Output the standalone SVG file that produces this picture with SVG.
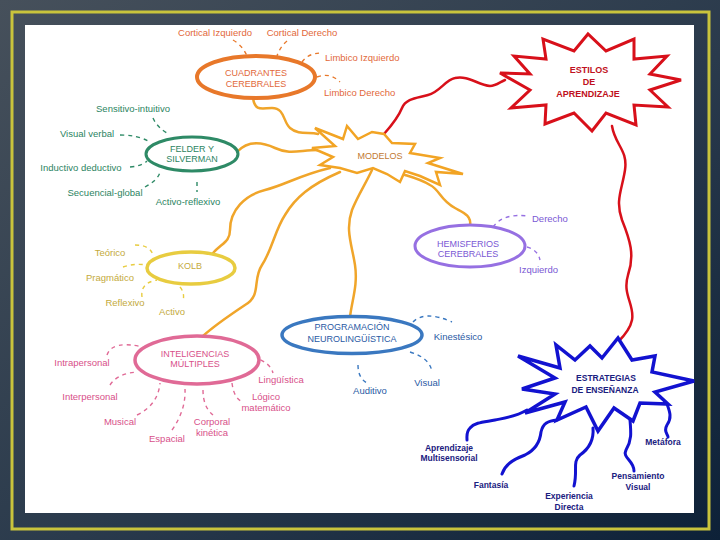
<svg xmlns="http://www.w3.org/2000/svg" width="720" height="540" viewBox="0 0 720 540">
<defs>
<linearGradient id="bg" x1="0" y1="0" x2="1" y2="1">
<stop offset="0" stop-color="#46505b"/>
<stop offset="0.55" stop-color="#2a3a4c"/>
<stop offset="1" stop-color="#0d2138"/>
</linearGradient>
<style>
text{font-family:"Liberation Sans",Arial,sans-serif;font-size:9.5px;text-anchor:middle}
.st{text-anchor:start}
.t{font-size:9px}
.b{font-weight:bold;font-size:8.5px}
.w{fill:none;stroke-width:2.5;stroke-linecap:round;stroke-linejoin:round}
.d{fill:none;stroke-width:1.4;stroke-dasharray:4 4}
.or{stroke:#f0a52a}.rd{stroke:#d8101a}.bl{stroke:#1212d0;stroke-width:3}
.c1{fill:#e2683a}.s1{stroke:#e8782a}
.c2{fill:#2c8462}.s2{stroke:#2e8a66}
.c3{fill:#c4aa3c}.s3{stroke:#e8cc40}
.c4{fill:#7a58d4}.s4{stroke:#9670e2}
.c5{fill:#d8508a}.s5{stroke:#e06a96}
.c6{fill:#2a5aa4}.s6{stroke:#3a78c0}
.c7{fill:#1a2080}
</style>
</defs>
<rect width="720" height="540" fill="url(#bg)"/>
<rect x="12" y="12" width="697" height="517" fill="none" stroke="#c9c43c" stroke-width="3"/>
<rect x="25" y="25" width="669" height="488" fill="#ffffff"/>

<g id="connectors">
<path class="w or" d="M253,98 C255,112 262,108 272,108 C285,108 283,122 290,128 C298,135 308,132 318,134"/>
<path class="w or" d="M237,152 C248,140 262,142 275,148 C290,155 300,150 318,150"/>
<path class="w or" d="M213,253 C222,243 230,242 230,230 C230,210 245,195 265,190 C285,185 300,175 330,168"/>
<path class="w or" d="M203,336 C215,325 230,315 245,305 C262,295 252,280 262,265 C272,250 275,230 285,215 C295,198 310,185 340,172"/>
<path class="w or" d="M350,317 C352,300 358,285 355,265 C352,245 345,230 352,210 C358,195 365,185 372,170"/>
<path class="w or" d="M470,226 C472,215 462,212 455,208 C440,200 440,190 430,185 C422,180 415,178 405,175"/>
<path class="w rd" d="M384,134 C392,125 398,118 402,108 C406,98 418,98 428,95 C440,92 445,80 455,78 C468,75 478,85 490,86 C496,86 500,82 505,80"/>
<path class="w rd" d="M612,126 C615,145 628,150 625,170 C622,190 615,200 622,220 C630,240 635,255 628,275 C622,295 635,305 632,320 C630,330 622,338 618,342"/>
<path class="w bl" d="M527,410 C515,417 505,418 495,420 C485,422 475,422 470,428 C466,432 467,436 467,440"/>
<path class="w bl" d="M557,420 C548,421 543,423 541,432 C540,442 535,450 525,455 C512,460 505,465 502,474"/>
<path class="w bl" d="M593,428 C594,440 590,448 580,455 C572,462 578,470 574,486"/>
<path class="w bl" d="M630,420 C631,432 632,440 626,450 C622,458 634,460 634,471"/>
<path class="w bl" d="M667,404 C670,412 672,418 667,425 C663,432 668,434 668,437"/>

<path class="d s1" d="M233,40 Q243,46 247,56"/>
<path class="d s1" d="M287,41 Q280,47 277,56"/>
<path class="d s1" d="M302,62 Q308,53 322,53"/>
<path class="d s1" d="M317,77 Q330,72 340,82"/>

<path class="d s2" d="M153,118 Q157,127 167,133"/>
<path class="d s2" d="M120,135 Q138,135 150,142"/>
<path class="d s2" d="M130,167 Q142,166 147,161"/>
<path class="d s2" d="M145,187 Q158,180 160,172"/>
<path class="d s2" d="M197,182 L197,192"/>

<path class="d s3" d="M135,245 Q150,245 153,255"/>
<path class="d s3" d="M123,267 Q135,263 147,265"/>
<path class="d s3" d="M142,297 Q140,283 157,280"/>
<path class="d s3" d="M180,287 Q185,293 183,301"/>

<path class="d s4" d="M493,227 Q503,213 528,216"/>
<path class="d s4" d="M527,247 Q538,250 540,260"/>

<path class="d s5" d="M107,355 Q112,340 143,347"/>
<path class="d s5" d="M110,385 Q118,373 138,372"/>
<path class="d s5" d="M137,415 Q158,405 160,383"/>
<path class="d s5" d="M172,430 Q186,410 185,389"/>
<path class="d s5" d="M203,390 Q203,407 213,415"/>
<path class="d s5" d="M232,383 Q234,399 243,402"/>
<path class="d s5" d="M253,357 Q270,362 273,373"/>

<path class="d s6" d="M413,322 Q425,310 452,322"/>
<path class="d s6" d="M358,365 Q358,378 367,383"/>
<path class="d s6" d="M410,352 Q430,358 432,372"/>
</g>

<g id="cuadrantes">
<ellipse cx="256" cy="77" rx="59" ry="21" fill="#ffffff" class="s1" stroke-width="4"/>
<text class="t c1" x="256" y="76">CUADRANTES</text>
<text class="t c1" x="256" y="87">CEREBRALES</text>
</g>
<g id="cuadrantes-labels">
<text class="c1" x="215" y="36">Cortical Izquierdo</text>
<text class="c1" x="302" y="36">Cortical Derecho</text>
<text class="c1 st" x="325" y="61">Limbico Izquierdo</text>
<text class="c1 st" x="324" y="96">Limbico Derecho</text>
</g>

<g id="felder">
<ellipse cx="192" cy="154" rx="46" ry="17" fill="#ffffff" class="s2" stroke-width="3"/>
<text class="t c2" x="192" y="152">FELDER Y</text>
<text class="t c2" x="192" y="162">SILVERMAN</text>
</g>
<g id="felder-labels">
<text class="c2" x="133" y="112">Sensitivo-intuitivo</text>
<text class="c2" x="87" y="137">Visual verbal</text>
<text class="c2" x="81" y="171">Inductivo deductivo</text>
<text class="c2" x="105" y="196">Secuencial-global</text>
<text class="c2" x="188" y="205">Activo-reflexivo</text>
</g>

<g id="modelos">
<polygon points="315,128 343,139 347,126 358,139 372,132 384,134 392,143 415,144 410,153 440,158 428,163 463,174 436,172 440,185 420,176 405,171 400,182 387,174 373,168 357,173 340,168 320,165 333,157 312,148 335,146" fill="#ffffff" stroke="#f2a424" stroke-width="2.5" stroke-linejoin="miter"/>
<text class="t" x="380" y="159" fill="#c27a32">MODELOS</text>
</g>

<g id="estilos">
<polygon points="681,80 650,90 668,107 634,105 636,125 606,113 592,131 574,113 545,124 546,105 511,108 530,90 500,73 530,74 514,56 546,59 543,39 574,51 588,34 606,51 634,39 634,59 667,56 650,74" fill="#ffffff" stroke="#d8101a" stroke-width="3" stroke-linejoin="miter"/>
<text class="t" x="589" y="73" fill="#c01020" font-weight="bold">ESTILOS</text>
<text class="t" x="589" y="85" fill="#c01020" font-weight="bold">DE</text>
<text class="t" x="588" y="97" fill="#c01020" font-weight="bold">APRENDIZAJE</text>
</g>

<g id="kolb">
<ellipse cx="191" cy="268" rx="44" ry="16" fill="#ffffff" class="s3" stroke-width="3.5"/>
<text class="t c3" x="190" y="269">KOLB</text>
</g>
<g id="kolb-labels">
<text class="c3" x="110" y="256">Teórico</text>
<text class="c3" x="110" y="281">Pragmático</text>
<text class="c3" x="125" y="306">Reflexivo</text>
<text class="c3" x="172" y="315">Activo</text>
</g>

<g id="hemisferios">
<ellipse cx="470" cy="246" rx="55" ry="21" fill="#ffffff" class="s4" stroke-width="3"/>
<text class="t c4" x="468" y="247">HEMISFERIOS</text>
<text class="t c4" x="468" y="257">CEREBRALES</text>
</g>
<g id="hemisferios-labels">
<text class="c4 st" x="532" y="222">Derecho</text>
<text class="c4 st" x="519" y="273">Izquierdo</text>
</g>

<g id="inteligencias">
<ellipse cx="197" cy="360" rx="62" ry="24" fill="#ffffff" class="s5" stroke-width="3.5"/>
<text class="t c5" x="195" y="357">INTELIGENCIAS</text>
<text class="t c5" x="195" y="367">MÚLTIPLES</text>
</g>
<g id="inteligencias-labels">
<text class="c5" x="82" y="366">Intrapersonal</text>
<text class="c5" x="90" y="400">Interpersonal</text>
<text class="c5" x="120" y="425">Musical</text>
<text class="c5" x="167" y="442">Espacial</text>
<text class="c5" x="212" y="425">Corporal</text>
<text class="c5" x="212" y="436">kinética</text>
<text class="c5" x="266" y="400">Lógico</text>
<text class="c5" x="266" y="411">matemático</text>
<text class="c5" x="281" y="383">Lingüística</text>
</g>

<g id="programacion">
<ellipse cx="352" cy="335" rx="70" ry="18.5" fill="#ffffff" class="s6" stroke-width="3.5"/>
<text class="t c6" x="352" y="330">PROGRAMACIÓN</text>
<text class="t c6" x="352" y="342">NEUROLINGÜÍSTICA</text>
</g>
<g id="programacion-labels">
<text class="c6" x="458" y="340">Kinestésico</text>
<text class="c6" x="370" y="394">Auditivo</text>
<text class="c6" x="427" y="386">Visual</text>
</g>

<g id="estrategias">
<polygon points="518,356 560,368 556,345 575,360 590,346 602,358 618,338 632,360 655,356 652,372 694,381 655,392 668,404 640,403 633,421 614,408 598,431 586,407 557,420 565,402 525,413 555,394 522,389 555,378" fill="#ffffff" stroke="#1212d0" stroke-width="3.5" stroke-linejoin="miter"/>
<text class="b c7" x="606" y="381">ESTRATEGIAS</text>
<text class="b c7" x="605" y="393">DE ENSEÑANZA</text>
</g>
<g id="estrategias-labels">
<text class="b c7" x="449" y="451">Aprendizaje</text>
<text class="b c7" x="449" y="461">Multisensorial</text>
<text class="b c7" x="491" y="488">Fantasía</text>
<text class="b c7" x="569" y="499">Experiencia</text>
<text class="b c7" x="569" y="510">Directa</text>
<text class="b c7" x="638" y="479">Pensamiento</text>
<text class="b c7" x="638" y="490">Visual</text>
<text class="b c7" x="663" y="445">Metáfora</text>
</g>
</svg>
